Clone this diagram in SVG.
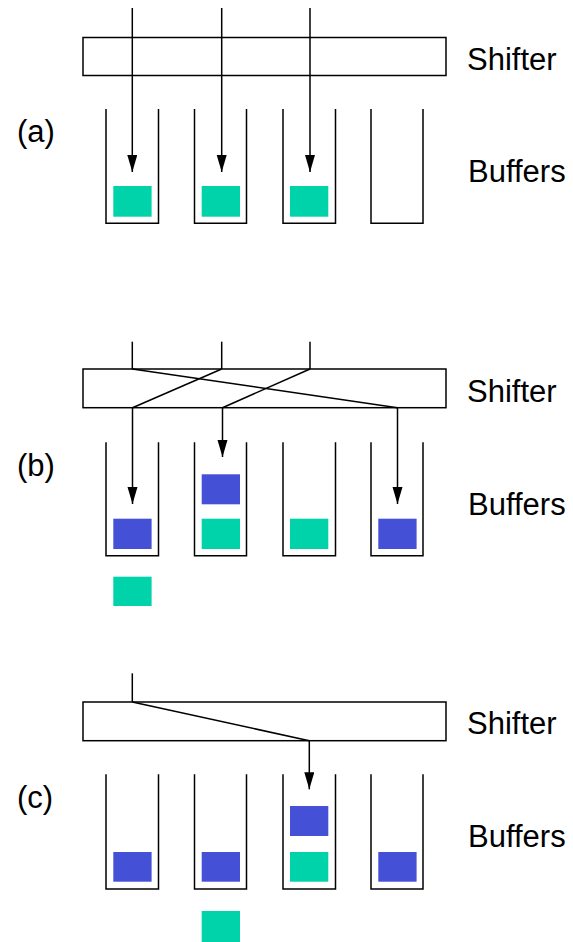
<svg xmlns="http://www.w3.org/2000/svg" width="573" height="942" viewBox="0 0 573 942">
  <defs>
    <style>
      .bg { fill: #ffffff; }
      .shifter { fill: #ffffff; stroke: #000000; stroke-width: 1.5; }
      .buffer { fill: none; stroke: #000000; stroke-width: 1.5; }
      .wire { fill: none; stroke: #000000; stroke-width: 1.5; }
      .arrow { fill: none; stroke: #000000; stroke-width: 1.5; marker-end: url(#head); }
      .green { fill: #00D2AA; }
      .blue { fill: #4450D6; }
      .label { font-family: "Liberation Sans", Arial, sans-serif; font-size: 31px; fill: #000000; }
    </style>
    <marker id="head" markerUnits="userSpaceOnUse" markerWidth="18" markerHeight="12" refX="17" refY="5" orient="auto">
      <path d="M0,0 L17,5 L0,10 Z" fill="#000000"/>
    </marker>
  </defs>

  <rect class="bg" x="0" y="0" width="573" height="942"/>

  <!-- (a): three packets shifted straight down -->
  <g id="panel-a">
    <g id="a-shifter">
      <rect class="shifter" x="83" y="37.5" width="363" height="38"/>
      <text class="label" x="467" y="69.5">Shifter</text>
    </g>
    <g id="a-buffers">
      <path class="buffer" d="M106,109 V223.3 H158.5 V109"/>
      <path class="buffer" d="M194.5,109 V223.3 H246.5 V109"/>
      <path class="buffer" d="M283,109 V223.3 H335.5 V109"/>
      <path class="buffer" d="M371,109 V223.3 H423 V109"/>
      <text class="label" x="468" y="181.7">Buffers</text>
    </g>
    <g id="a-packets">
      <rect class="green" x="113.3" y="186" width="38.3" height="30.7"/>
      <rect class="green" x="201.7" y="186" width="38.3" height="30.7"/>
      <rect class="green" x="290" y="186" width="38.3" height="30.7"/>
    </g>
    <text class="label" x="17" y="142">(a)</text>
    <g id="a-connectors">
      <line class="arrow" x1="132.3" y1="8" x2="132.3" y2="172"/>
      <line class="arrow" x1="221.7" y1="8" x2="221.7" y2="172"/>
      <line class="arrow" x1="310" y1="8" x2="310" y2="172"/>
    </g>
  </g>

  <!-- (b): inputs rotated by one position -->
  <g id="panel-b">
    <g id="b-shifter">
      <rect class="shifter" x="83" y="369" width="363" height="38.7"/>
      <text class="label" x="467" y="402.3">Shifter</text>
    </g>
    <g id="b-buffers">
      <path class="buffer" d="M106,442.3 V555.7 H158.5 V442.3"/>
      <path class="buffer" d="M194.5,442.3 V555.7 H246.5 V442.3"/>
      <path class="buffer" d="M283,442.3 V555.7 H335.5 V442.3"/>
      <path class="buffer" d="M371,442.3 V555.7 H423 V442.3"/>
      <text class="label" x="468" y="514.5">Buffers</text>
    </g>
    <g id="b-packets">
      <rect class="blue" x="113.3" y="518.7" width="38.3" height="30.3"/>
      <rect class="blue" x="201.7" y="474.3" width="38.3" height="30"/>
      <rect class="green" x="201.7" y="518.7" width="38.3" height="30.3"/>
      <rect class="green" x="290" y="518.7" width="38.3" height="30.3"/>
      <rect class="blue" x="378.3" y="518.7" width="38.3" height="30.3"/>
      <rect class="green" x="113.3" y="576.7" width="38.3" height="29.3"/>
    </g>
    <text class="label" x="17" y="476">(b)</text>
    <g id="b-connectors">
      <line class="wire" x1="132.3" y1="341.7" x2="132.3" y2="369"/>
      <line class="wire" x1="221.7" y1="341.7" x2="221.7" y2="369"/>
      <line class="wire" x1="310" y1="341.7" x2="310" y2="369"/>
      <line class="wire" x1="132.3" y1="369" x2="397.5" y2="407.7"/>
      <line class="wire" x1="221.7" y1="369" x2="132.5" y2="407.7"/>
      <line class="wire" x1="310" y1="369" x2="222.5" y2="407.7"/>
      <line class="arrow" x1="132.5" y1="407.7" x2="132.5" y2="504"/>
      <line class="arrow" x1="222.5" y1="407.7" x2="222.5" y2="457"/>
      <line class="arrow" x1="397.5" y1="407.7" x2="397.5" y2="504"/>
    </g>
  </g>

  <!-- (c): single input shifted by two positions -->
  <g id="panel-c">
    <g id="c-shifter">
      <rect class="shifter" x="83" y="702" width="363" height="38.7"/>
      <text class="label" x="467" y="734.3">Shifter</text>
    </g>
    <g id="c-buffers">
      <path class="buffer" d="M106,774.3 V889 H158.5 V774.3"/>
      <path class="buffer" d="M194.5,774.3 V889 H246.5 V774.3"/>
      <path class="buffer" d="M283,774.3 V889 H335.5 V774.3"/>
      <path class="buffer" d="M371,774.3 V889 H423 V774.3"/>
      <text class="label" x="468" y="846.5">Buffers</text>
    </g>
    <g id="c-packets">
      <rect class="blue" x="113.3" y="852" width="38.3" height="29.7"/>
      <rect class="blue" x="201.7" y="852" width="38.3" height="29.7"/>
      <rect class="blue" x="290" y="806" width="38.3" height="30"/>
      <rect class="green" x="290" y="852" width="38.3" height="29.7"/>
      <rect class="blue" x="378.3" y="852" width="38.3" height="29.7"/>
      <rect class="green" x="201.7" y="911" width="38.3" height="31"/>
    </g>
    <text class="label" x="17" y="807.5">(c)</text>
    <g id="c-connectors">
      <line class="wire" x1="132.3" y1="673.3" x2="132.3" y2="702"/>
      <line class="wire" x1="132.3" y1="702" x2="309.3" y2="740.7"/>
      <line class="arrow" x1="309.3" y1="740.7" x2="309.3" y2="789.3"/>
    </g>
  </g>
</svg>
